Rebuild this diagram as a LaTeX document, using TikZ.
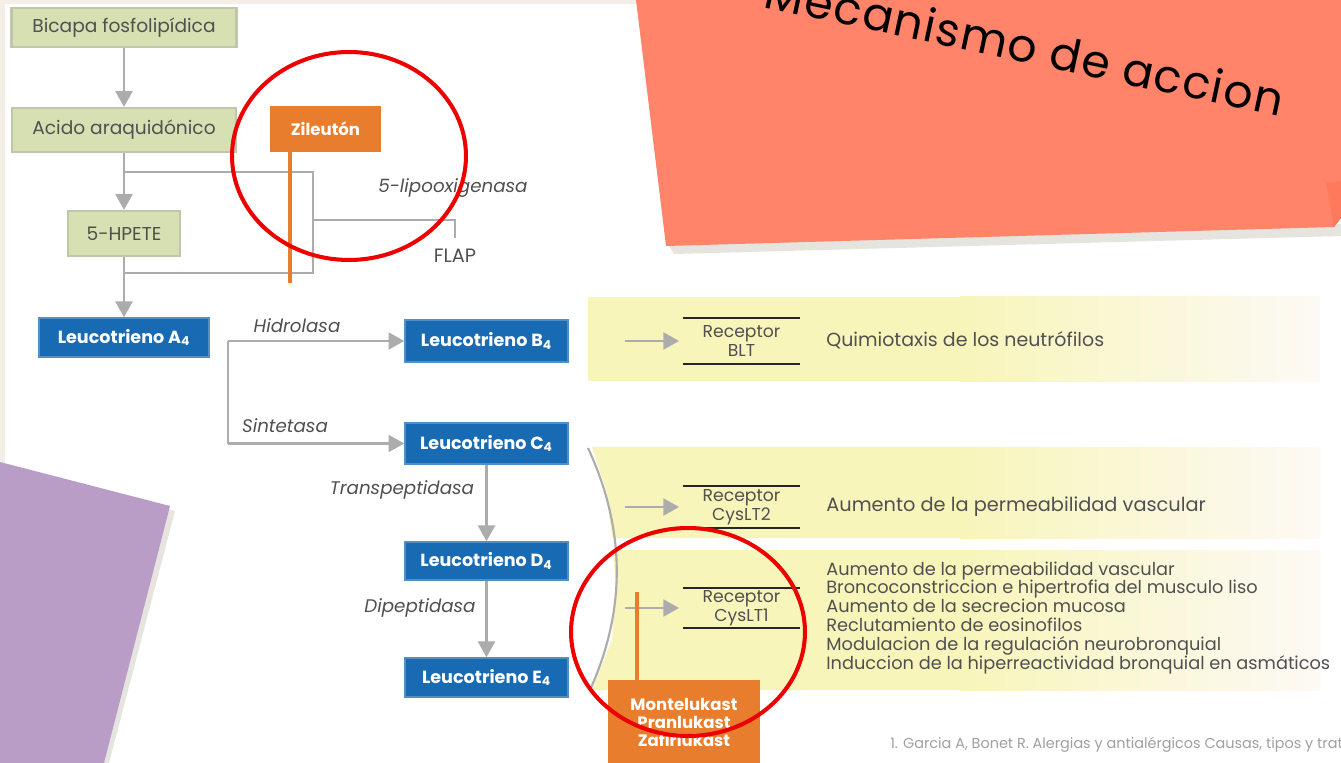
\documentclass[tikz,border=0pt]{standalone}
\usepackage{fontspec}
\setmainfont{Poppins}
\usepackage{tikz}
\usetikzlibrary{arrows.meta}
\usetikzlibrary{calc}

\definecolor{slidebg}{RGB}{243,239,230}
\definecolor{greenfill}{RGB}{214,224,178}
\definecolor{greenline}{RGB}{192,197,172}
\definecolor{ltblue}{RGB}{24,106,178}
\definecolor{drugorange}{RGB}{232,125,45}
\definecolor{flowgray}{RGB}{172,172,172}
\definecolor{textgray}{RGB}{80,80,80}
\definecolor{bandyel}{RGB}{248,245,186}
\definecolor{bandend}{RGB}{253,249,245}
\definecolor{salmon}{RGB}{255,132,105}
\definecolor{salmondark}{RGB}{255,121,92}
\definecolor{shadowgray}{RGB}{229,228,223}
\definecolor{notepurple}{RGB}{185,157,199}
\definecolor{ringred}{RGB}{236,0,0}
\definecolor{citegray}{RGB}{160,160,160}

\tikzset{
  greenbox/.style={draw=greenline, line width=1.2pt, fill=greenfill, text=textgray, inner sep=0pt, font=\fontsize{10.6}{12}\selectfont},
  bluebox/.style={fill=ltblue, draw=ltblue!75!white, line width=0.8pt, text=white, inner sep=0pt, font=\bfseries\fontsize{10}{12}\selectfont},
  drugbox/.style={fill=drugorange, text=white, inner sep=0pt, align=center, font=\bfseries\fontsize{9.4}{10.2}\selectfont},
  flow/.style={draw=flowgray, line width=1.7pt, -{Triangle[length=9pt,width=9.5pt]}},
  flowline/.style={draw=flowgray, line width=1.4pt},
  enzyme/.style={text=textgray, inner sep=0pt, font=\itshape\fontsize{10.4}{12}\selectfont},
  receptor/.style={inner sep=0pt, align=center, text=textgray, font=\fontsize{9.8}{9}\selectfont},
  recbar/.style={draw=black!85, line width=1.2pt},
  effect/.style={anchor=west, inner sep=0pt, align=left, text=textgray},
  block/.style={draw=drugorange, line width=2pt},
  redring/.style={draw=ringred, line width=2.3pt}
}

\begin{document}
\begin{tikzpicture}[x=0.02cm, y=-0.02cm]
\useasboundingbox (0,0) rectangle (1341,763);
\clip (0,0) rectangle (1341,763);

\fill[slidebg] (0,0) rectangle (1341,763);
\fill[white] (5,4) rectangle (1341,763);

\fill[bandyel] (588,297) rectangle (1320,381);
\shade[left color=bandyel, right color=bandend] (960,297) rectangle (1320,381);
\fill[bandyel] (592,447) -- (1320,447) -- (1320,538) -- (612,538) -- (606,490) -- cycle;
\shade[left color=bandyel, right color=bandend] (960,447) rectangle (1320,538);
\fill[bandyel] (613,550) -- (1320,550) -- (1320,690) -- (592,690) -- (612,640) -- (616,590) -- cycle;
\shade[left color=bandyel, right color=bandend] (960,550) rectangle (1320,690);

\node[greenbox, minimum width=4.5cm, minimum height=0.78cm] (bicapa) at (124,27.5) {Bicapa fosfolipídica};
\node[greenbox, minimum width=4.48cm, minimum height=0.88cm] (acido) at (124,130) {Acido araquidónico};
\node[drugbox, minimum width=2.22cm, minimum height=0.92cm] (zileuton) at (325.5,129) {Zileutón};
\node[greenbox, minimum width=2.24cm, minimum height=0.9cm] (hpete) at (124,233.5) {5-HPETE};
\node[bluebox, minimum width=3.4cm, minimum height=0.78cm] (lta) at (124,337.5) {Leucotrieno A\textsubscript{4}};

\draw[flow] (bicapa) -- (acido);
\draw[flow] (acido) -- (hpete);
\draw[flow] (hpete) -- (lta);

\coordinate (lox1) at (124,172);
\coordinate (lox2) at (313,172);
\coordinate (lox3) at (313,273);
\coordinate (lox4) at (124,273);
\draw[flowline] (lox1) -- (lox2) -- (lox3) -- (lox4);
\coordinate (flap1) at (313,220);
\coordinate (flap2) at (455,220);
\coordinate (flap3) at (455,238);
\draw[flowline] (flap1) -- (flap2) -- (flap3);
\node[enzyme] (lipox) at (453,188) {5-lipooxigenasa};
\node[text=textgray, inner sep=0pt, font=\fontsize{11}{12}\selectfont] (flap) at (455,256) {FLAP};

\coordinate (zilend) at (290,283);
\draw[block] (zilend |- zileuton.south) -- (zilend);

\node[bluebox, minimum width=3.26cm, minimum height=0.84cm] (ltb) at (486.5,341) {Leucotrieno B\textsubscript{4}};
\node[bluebox, minimum width=3.26cm, minimum height=0.82cm] (ltc) at (486.5,443.5) {Leucotrieno C\textsubscript{4}};
\node[bluebox, minimum width=3.26cm, minimum height=0.76cm] (ltd) at (486.5,561) {Leucotrieno D\textsubscript{4}};
\node[bluebox, minimum width=3.26cm, minimum height=0.78cm] (lte) at (486.5,677.5) {Leucotrieno E\textsubscript{4}};

\coordinate (hidro) at (228,341);
\coordinate (sinte) at (228,443.5);
\draw[flowline] (hidro) -- (sinte);
\draw[flow] (hidro) -- (ltb);
\draw[flow] (sinte) -- (ltc);
\node[enzyme] (hidrolasa) at (297,326) {Hidrolasa};
\node[enzyme] (sintetasa) at (285,426) {Sintetasa};

\draw[flow] (ltc) -- (ltd);
\draw[flow] (ltd) -- (lte);
\node[enzyme] (transp) at (402,490) {Transpeptidasa};
\node[enzyme] (dipep) at (420,608) {Dipeptidasa};

\draw[flowline, line width=1.2pt] (588,448) .. controls (626,530) and (626,610) .. (590,690);

\node[receptor, minimum width=2.34cm, minimum height=0.92cm] (recblt) at (741.5,341) {Receptor\\BLT};
\node[receptor, minimum width=2.34cm, minimum height=0.84cm] (reccys2) at (741.5,507) {Receptor\\CysLT2};
\node[receptor, minimum width=2.34cm, minimum height=0.8cm] (reccys1) at (741.5,608) {Receptor\\CysLT1};
\draw[recbar] (recblt.north west) -- (recblt.north east);
\draw[recbar] (recblt.south west) -- (recblt.south east);
\draw[recbar] (reccys2.north west) -- (reccys2.north east);
\draw[recbar] (reccys2.south west) -- (reccys2.south east);
\draw[recbar] (reccys1.north west) -- (reccys1.north east);
\draw[recbar] (reccys1.south west) -- (reccys1.south east);

\coordinate (inblt) at (625,341);
\coordinate (incys2) at (625,507);
\coordinate (incys1) at (625,608);
\draw[flow, shorten >=2pt] (inblt) -- (recblt);
\draw[flow, shorten >=2pt] (incys2) -- (reccys2);
\draw[flow, shorten >=2pt] (incys1) -- (reccys1);

\node[effect, font=\fontsize{10.8}{12}\selectfont] (quimio) at (826,340) {Quimiotaxis de los neutrófilos};
\node[effect, font=\fontsize{11}{12}\selectfont] (permeab) at (826,507) {Aumento de la permeabilidad vascular};
\node[effect, font=\fontsize{10.1}{10.8}\selectfont] (cysfx) at (826,618) {Aumento de la permeabilidad vascular\\
  Broncoconstriccion e hipertrofia del musculo liso\\
  Aumento de la secrecion mucosa\\
  Reclutamiento de eosinofilos\\
  Modulacion de la regulación neurobronquial\\
  Induccion de la hiperreactividad bronquial en asmáticos};

\node[drugbox, minimum width=3.04cm, minimum height=1.7cm, anchor=north] (monte) at (684,680) {Montelukast\\Pranlukast\\Zafirlukast};
\coordinate (monteblock) at (637,592);
\draw[block] (monteblock) -- (monteblock |- monte.north);

\node[anchor=base west, text=citegray, inner sep=0pt, font=\fontsize{8.2}{9}\selectfont] (cita) at (890,748) {1. Garcia A, Bonet R. Alergias y antialérgicos Causas, tipos y tratamiento.};

\fill[shadowgray] (668,244) -- (1341,224) -- (1341,236) -- (674,254) -- cycle;
\fill[salmon] (636,0) -- (1341,0) -- (1341,218) -- (1334,227) -- (666,246) -- cycle;
\fill[salmondark] (1326,183) -- (1341,181) -- (1341,218) -- (1334,227) -- cycle;
\node[rotate=-12, anchor=base east, inner sep=0pt, font=\fontsize{26}{30}\selectfont\addfontfeature{LetterSpace=3}] (titulo) at (1280,117) {Mecanismo de accion};

\fill[shadowgray] (0,467) -- (175,511) -- (109,763) -- (0,763) -- cycle;
\fill[notepurple] (0,462) -- (170,506) -- (104,763) -- (0,763) -- cycle;

\draw[redring] (349,156) ellipse [x radius=2.34cm, y radius=2.08cm];
\draw[redring] (688,632) ellipse [x radius=2.34cm, y radius=2.08cm];

\end{tikzpicture}
\end{document}
